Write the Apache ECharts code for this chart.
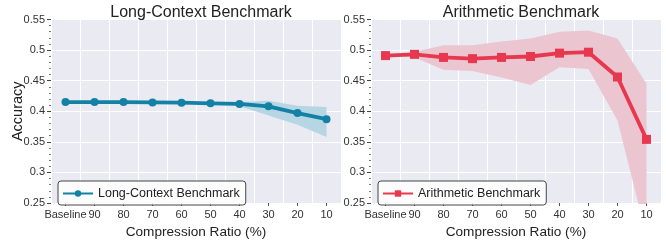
<!DOCTYPE html>
<html>
<head>
<meta charset="utf-8">
<script src="https://cdn.jsdelivr.net/npm/echarts@6/dist/echarts.min.js"></script>
<style>
  html, body { margin: 0; padding: 0; background: #fff; }
  #main { width: 666px; height: 244px; }
</style>
</head>
<body>
<div id="main"></div>
<script>
'use strict';
// x categories (compression ratio)
var categories = ['Baseline', '90', '80', '70', '60', '50', '40', '30', '20', '10'];

// long-context benchmark: mean and band
var longMean  = [0.415, 0.415, 0.415, 0.4145, 0.414, 0.413, 0.412, 0.408, 0.397, 0.387];
var longLow   = [0.415, 0.415, 0.415, 0.4145, 0.413, 0.411, 0.408, 0.393, 0.378, 0.358];
var longHigh  = [0.415, 0.415, 0.415, 0.4145, 0.415, 0.415, 0.415, 0.417, 0.409, 0.407];

// arithmetic benchmark: mean and band
var arithMean = [0.491, 0.493, 0.488, 0.486, 0.488, 0.4895, 0.495, 0.4965, 0.456, 0.354];
var arithLow  = [0.491, 0.488, 0.468, 0.466, 0.455, 0.443, 0.472, 0.469, 0.385, 0.196];
var arithHigh = [0.491, 0.497, 0.508, 0.508, 0.514, 0.519, 0.530, 0.532, 0.519, 0.445];

var yTicks = { min: 0.25, max: 0.55, interval: 0.05 };

var FONT = 'Liberation Sans';
var blue = '#1380a6', blueBand = '#b7d6e4';
var red = '#e8384f', redBand = '#ebc5cf';

function diff(hi, lo) {
    return hi.map(function (v, i) { return +(v - lo[i]).toFixed(4); });
}

function xAxisFor(idx) {
    return {
        type: 'category', gridIndex: idx, data: categories, boundaryGap: true,
        name: 'Compression Ratio (%)', nameLocation: 'middle', nameGap: 22,
        nameTextStyle: { fontFamily: FONT, fontSize: 13.6, color: '#222' },
        axisLine: { show: false },
        axisTick: { show: true, alignWithLabel: true, interval: 0, length: 3, lineStyle: { color: '#555' } },
        axisLabel: { fontFamily: FONT, fontSize: 11, color: '#333', margin: 6, interval: 0 },
        splitLine: { show: true, interval: 0, lineStyle: { color: '#fff', width: 1 } }
    };
}

function yAxisFor(idx) {
    return {
        type: 'value', gridIndex: idx, min: yTicks.min, max: yTicks.max, interval: yTicks.interval,
        name: idx === 0 ? 'Accuracy' : '', nameLocation: 'middle', nameGap: 26, nameMoveOverlap: false,
        nameTextStyle: { fontFamily: FONT, fontSize: 14.5, color: '#222' },
        axisLine: { show: false },
        axisTick: { show: true, length: 4, lineStyle: { color: '#444' } },
        minorTick: { show: true, splitNumber: 5, length: 2, lineStyle: { color: '#777' } },
        axisLabel: {
            fontFamily: FONT, fontSize: 11, color: '#333', margin: 6,
            formatter: function (v) { return String(+v.toFixed(2)); }
        },
        splitLine: { show: true, lineStyle: { color: '#fff', width: 1 } }
    };
}

function bandSeries(idx, lo, hi, color, stack) {
    return [
        {
            type: 'line', xAxisIndex: idx, yAxisIndex: idx, data: lo, stack: stack,
            symbol: 'none', lineStyle: { opacity: 0 }, silent: true, z: 1
        },
        {
            type: 'line', xAxisIndex: idx, yAxisIndex: idx, data: diff(hi, lo), stack: stack,
            symbol: 'none', lineStyle: { opacity: 0 }, areaStyle: { color: color, opacity: 1 },
            silent: true, z: 1
        }
    ];
}

var dom = document.getElementById('main');
var myChart = echarts.init(dom, null, { renderer: 'canvas' });

var legendBase = {
    itemWidth: 30, itemHeight: 8, itemGap: 6, padding: [6, 6, 5, 4], top: 181,
    backgroundColor: 'rgba(255,255,255,0.85)', borderColor: '#444', borderWidth: 1, borderRadius: 3,
    textStyle: { fontFamily: FONT, fontSize: 12.5, color: '#222' }
};

var option = {
    animation: false,
    backgroundColor: '#fff',
    title: [
        { text: 'Long-Context Benchmark', left: 196, top: 0, textAlign: 'center',
          textStyle: { fontFamily: FONT, fontSize: 16, fontWeight: 'normal', color: '#222' } },
        { text: 'Arithmetic Benchmark', left: 516, top: 0, textAlign: 'center',
          textStyle: { fontFamily: FONT, fontSize: 16, fontWeight: 'normal', color: '#222' } }
    ],
    grid: [
        { left: 51, top: 19.5, width: 290, height: 189.5, show: true, backgroundColor: '#eaeaf2', borderWidth: 0 },
        { left: 371, top: 19.5, width: 290, height: 189.5, show: true, backgroundColor: '#eaeaf2', borderWidth: 0 }
    ],
    legend: [
        Object.assign({ data: ['Long-Context Benchmark'], left: 58 }, legendBase),
        Object.assign({ data: ['Arithmetic Benchmark'], left: 378 }, legendBase)
    ],
    xAxis: [xAxisFor(0), xAxisFor(1)],
    yAxis: [yAxisFor(0), yAxisFor(1)],
    series: [].concat(
        bandSeries(0, longLow, longHigh, blueBand, 'longBand'),
        bandSeries(1, arithLow, arithHigh, redBand, 'arithBand'),
        [
            {
                name: 'Long-Context Benchmark', type: 'line', xAxisIndex: 0, yAxisIndex: 0,
                data: longMean, symbol: 'circle', symbolSize: 8, color: blue,
                lineStyle: { width: 3.8, color: blue }, itemStyle: { color: blue }, z: 3
            },
            {
                name: 'Arithmetic Benchmark', type: 'line', xAxisIndex: 1, yAxisIndex: 1,
                data: arithMean, symbol: 'rect', symbolSize: 9, color: red,
                lineStyle: { width: 3.8, color: red }, itemStyle: { color: red }, z: 3
            }
        ]
    )
};

myChart.setOption(option);
</script>
</body>
</html>
